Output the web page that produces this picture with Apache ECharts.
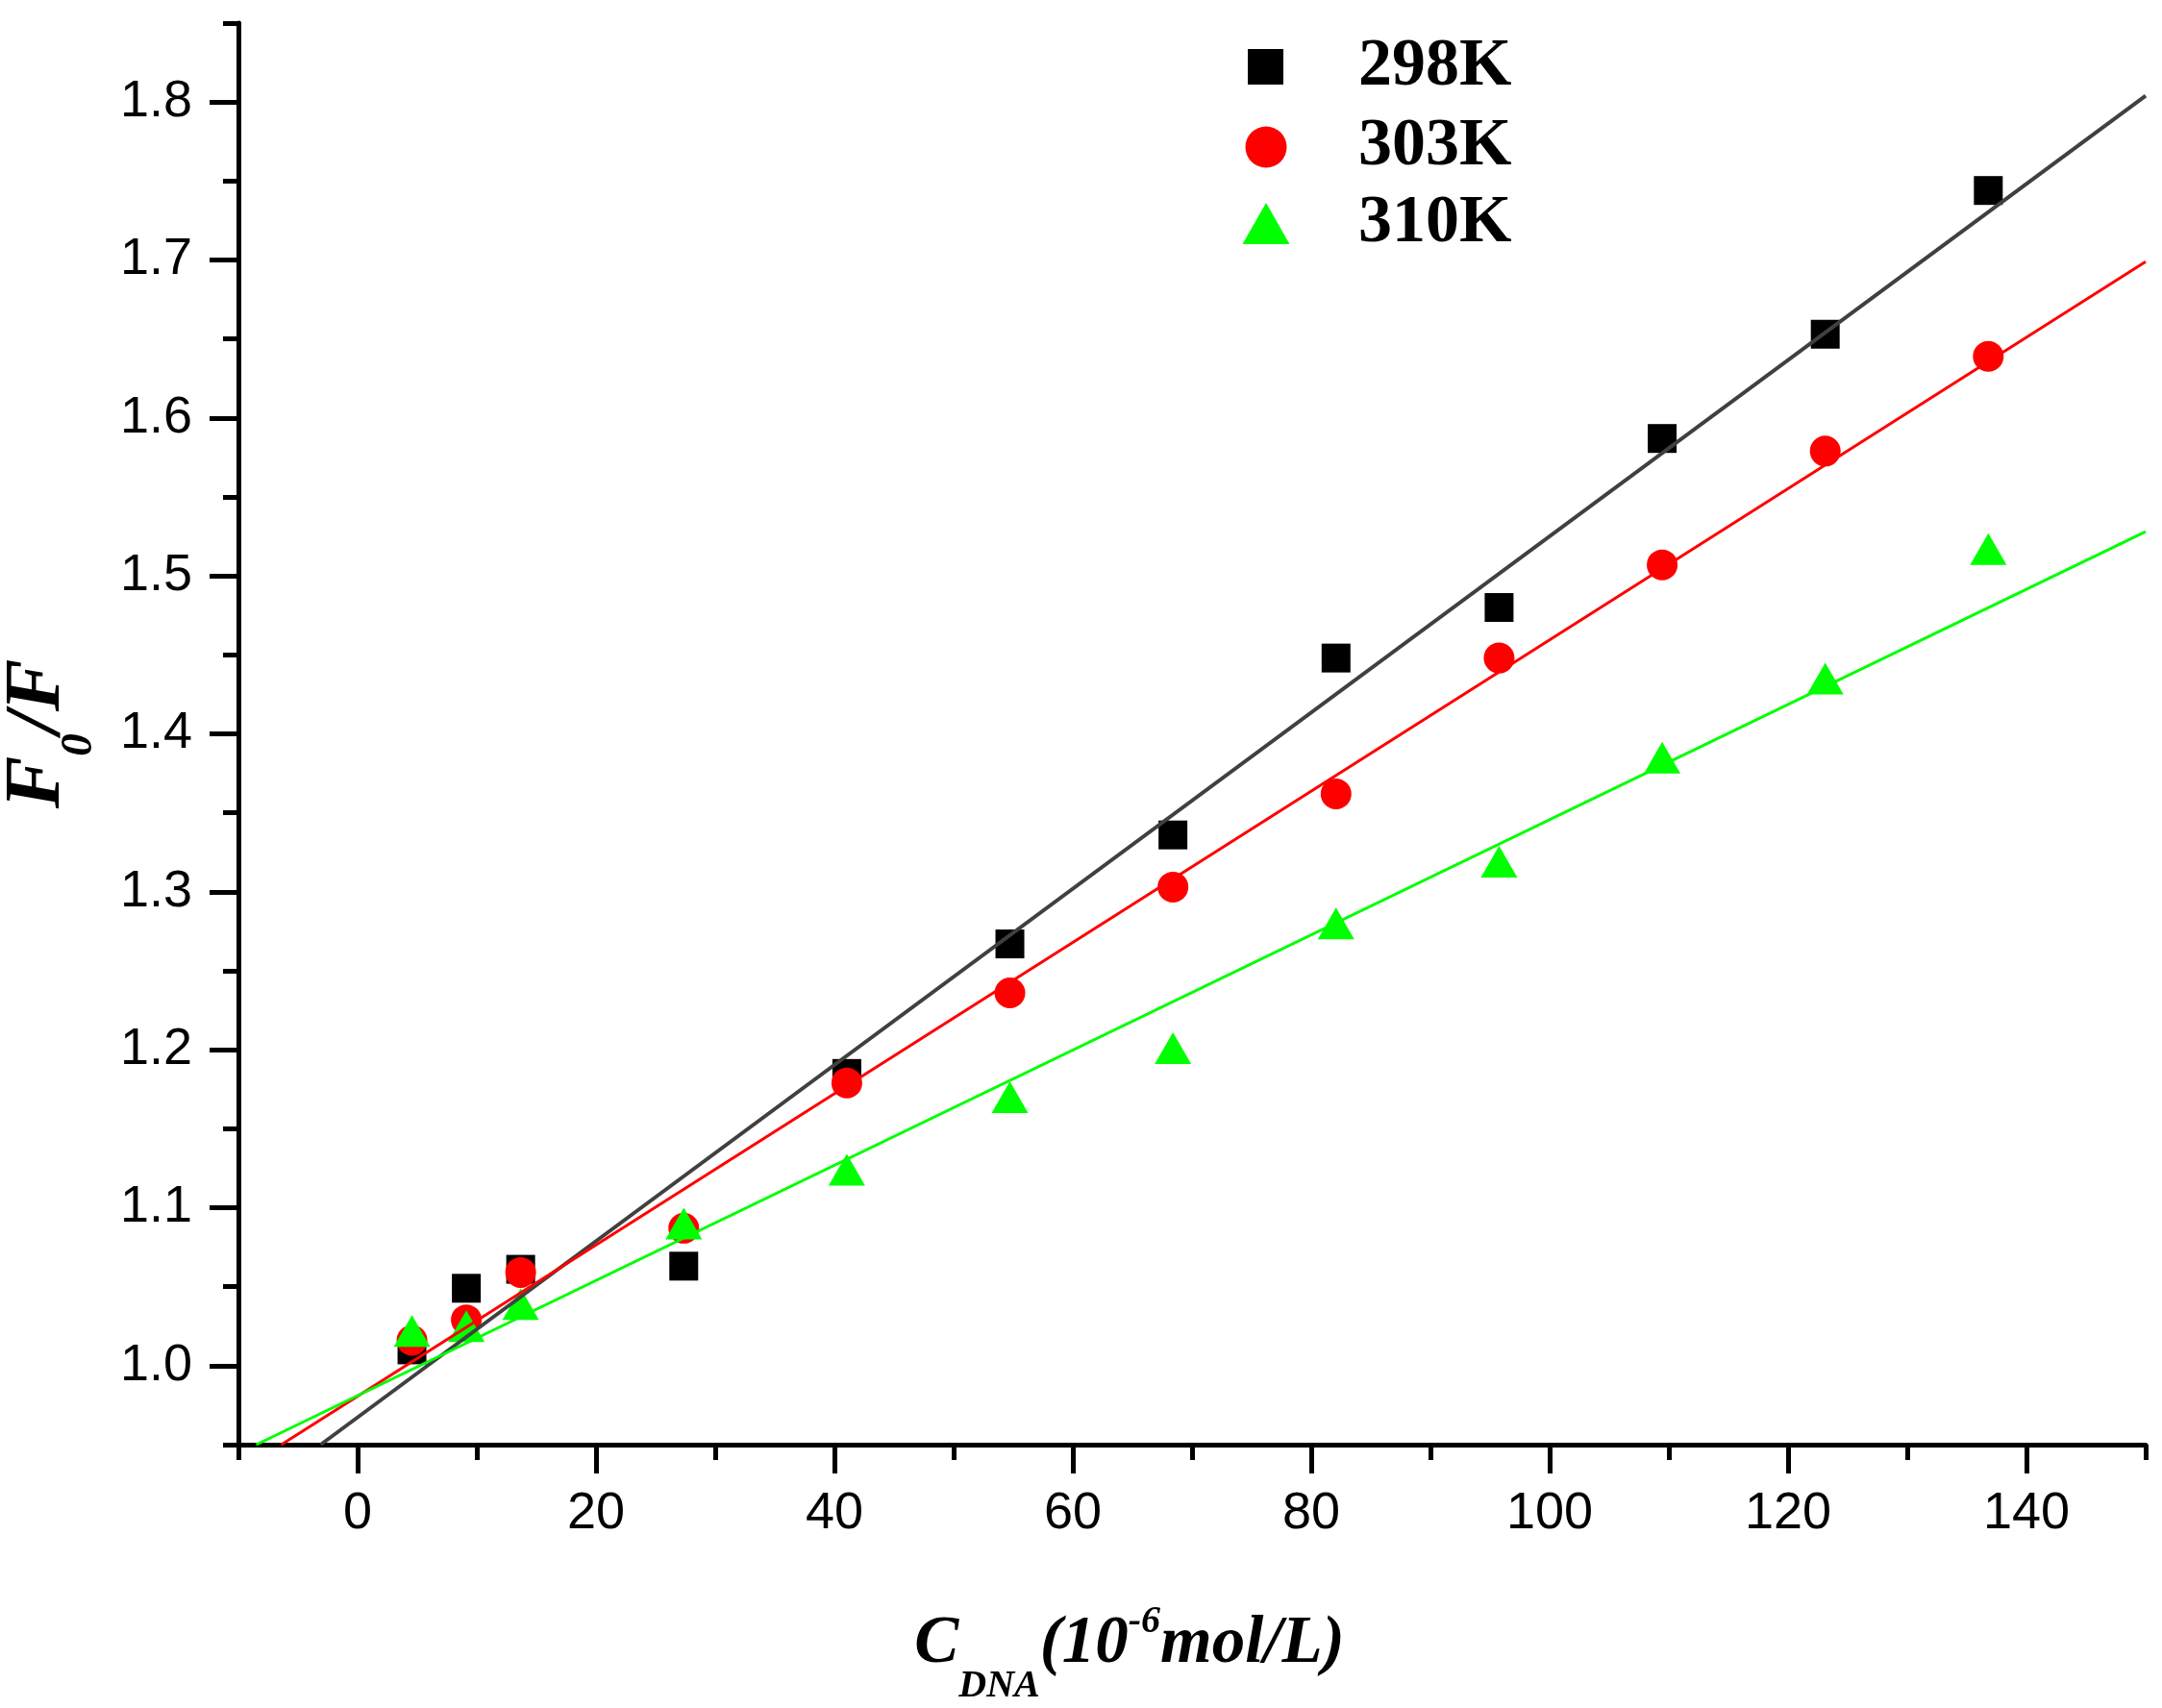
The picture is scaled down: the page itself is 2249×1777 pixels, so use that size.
<!DOCTYPE html>
<html>
<head>
<meta charset="utf-8">
<title>F0/F vs CDNA</title>
<script src="https://cdn.jsdelivr.net/npm/echarts@6/dist/echarts.min.js"></script>
<style>
  html, body { margin: 0; padding: 0; background: #fff; }
  #chart { width: 2249px; height: 1777px; }
</style>
</head>
<body>
<div id="chart"></div>
<script>
// F0/F against DNA concentration at three temperatures, with linear fits
var concentrations = [4.56, 9.12, 13.68, 27.36, 41.04, 54.72, 68.4, 82.08, 95.76, 109.44, 123.12, 136.8];
var ratio298 = [1.010, 1.049, 1.061, 1.063, 1.185, 1.267, 1.336, 1.448, 1.480, 1.587, 1.653, 1.744];
var ratio303 = [1.016, 1.029, 1.059, 1.087, 1.179, 1.236, 1.303, 1.362, 1.448, 1.507, 1.579, 1.639];
var ratio310 = [1.022, 1.025, 1.039, 1.090, 1.124, 1.170, 1.201, 1.280, 1.319, 1.385, 1.435, 1.517];

// fitted lines, endpoints read where they leave the frame
var fit298 = [[-3.1, 0.95], [150, 1.804]];
var fit303 = [[-6.4, 0.95], [150, 1.699]];
var fit310 = [[-8.5, 0.95], [150, 1.528]];

var xMajorTicks = [0, 20, 40, 60, 80, 100, 120, 140];
var xMinorTicks = [-10, 10, 30, 50, 70, 90, 110, 130, 150];
var yMajorTicks = [1.0, 1.1, 1.2, 1.3, 1.4, 1.5, 1.6, 1.7, 1.8];
var yMinorTicks = [0.95, 1.05, 1.15, 1.25, 1.35, 1.45, 1.55, 1.65, 1.75, 1.85];

(function() {
  var sans = 'Liberation Sans';
  var serif = 'Liberation Serif';

  function pairs(ys) {
    return concentrations.map(function(c, i) { return [c, ys[i]]; });
  }

  var tickStyle = { color: '#000', width: 5 };
  var labelStyle = { color: '#000', fontFamily: sans, fontSize: 54 };

  // bold italic serif pieces; sub/superscripts are shifted with padding,
  // lineHeight includes the padding so the line box is fixed
  function titleRich(main, extra) {
    var base = { fontFamily: serif, fontWeight: 'bold', fontStyle: 'italic', color: '#000', verticalAlign: 'middle' };
    var rich = { m: Object.assign({}, base, main) };
    Object.keys(extra).forEach(function(k) { rich[k] = Object.assign({}, base, extra[k]); });
    return rich;
  }

  function legendFor(name, left, top, w, h, padLeft) {
    return {
      data: [name],
      left: left,
      top: top,
      orient: 'vertical',
      padding: 0,
      itemWidth: w,
      itemHeight: h,
      selectedMode: false,
      textStyle: {
        fontFamily: serif, fontWeight: 'bold', fontSize: 70, lineHeight: 70,
        color: '#000', padding: [0, 0, 0, padLeft]
      }
    };
  }

  var chart = echarts.init(document.getElementById('chart'));
  chart.setOption({
    animation: false,
    backgroundColor: '#fff',
    grid: { left: 248, right: 17, top: 24, bottom: 274, containLabel: false, outerBoundsMode: 'none' },
    legend: [
      legendFor('298K', 1298, 34.5, 37, 37, 73),
      legendFor('303K', 1295.5, 118, 43, 43, 69.5),
      legendFor('310K', 1292.5, 197.5, 49, 43, 66.5)
    ],
    xAxis: [{
      type: 'value', min: -10, max: 150, position: 'bottom',
      axisLine: { show: true, onZero: false, lineStyle: { color: '#000', width: 5 } },
      axisTick: { show: true, customValues: xMajorTicks, length: 30, lineStyle: tickStyle },
      axisLabel: Object.assign({ customValues: xMajorTicks, margin: 45 }, labelStyle),
      splitLine: { show: false },
      name: '{m|C}{s|DNA}{m|(10}{p|-6}{m|mol/L)}',
      nameLocation: 'middle',
      nameGap: 144,
      nameMoveOverlap: false,
      nameTextStyle: {
        padding: [0, 130, 0, 0],
        rich: titleRich({ fontSize: 69, lineHeight: 76 }, {
          s: { fontSize: 40, lineHeight: 128, padding: [88, 0, 0, 0] },
          p: { fontSize: 40, lineHeight: 86, padding: [0, 0, 46, 0] }
        })
      }
    }, {
      type: 'value', min: -10, max: 150, position: 'bottom',
      axisLine: { show: false, onZero: false },
      axisTick: { show: true, customValues: xMinorTicks, length: 16, lineStyle: tickStyle },
      axisLabel: { show: false },
      splitLine: { show: false }
    }],
    yAxis: [{
      type: 'value', min: 0.95, max: 1.85, position: 'left',
      axisLine: { show: true, onZero: false, lineStyle: { color: '#000', width: 5 } },
      axisTick: { show: true, customValues: yMajorTicks, length: 30, lineStyle: tickStyle },
      axisLabel: Object.assign({
        customValues: yMajorTicks, margin: 48,
        formatter: function(v) { return v.toFixed(1); }
      }, labelStyle),
      splitLine: { show: false },
      name: '{m|F}{s|0}{m|/F}',
      nameLocation: 'middle',
      nameGap: 142,
      nameMoveOverlap: false,
      nameTextStyle: {
        rich: titleRich({ fontSize: 82, lineHeight: 90 }, {
          s: { fontSize: 47, lineHeight: 133, padding: [86, 0, 0, 0] }
        })
      }
    }, {
      type: 'value', min: 0.95, max: 1.85, position: 'left',
      axisLine: { show: false, onZero: false },
      axisTick: { show: true, customValues: yMinorTicks, length: 16, lineStyle: tickStyle },
      axisLabel: { show: false },
      splitLine: { show: false }
    }],
    series: [
      { name: '298K', type: 'scatter', symbol: 'rect', symbolSize: 30,
        itemStyle: { color: '#000000', opacity: 1 }, data: pairs(ratio298), z: 2 },
      { name: '303K', type: 'scatter', symbol: 'circle', symbolSize: 32,
        itemStyle: { color: '#ff0000', opacity: 1 }, data: pairs(ratio303), z: 2 },
      { name: '310K', type: 'scatter', symbol: 'triangle', symbolSize: [38, 33],
        itemStyle: { color: '#00ff00', opacity: 1 }, data: pairs(ratio310), z: 2 },
      { name: 'fit298', type: 'line', data: fit298, showSymbol: false, symbol: 'none',
        lineStyle: { color: '#404040', width: 4 }, z: 3, silent: true },
      { name: 'fit303', type: 'line', data: fit303, showSymbol: false, symbol: 'none',
        lineStyle: { color: '#ff0000', width: 3 }, z: 3, silent: true },
      { name: 'fit310', type: 'line', data: fit310, showSymbol: false, symbol: 'none',
        lineStyle: { color: '#00ff00', width: 3 }, z: 3, silent: true }
    ]
  });
  window.addEventListener('resize', function() { chart.resize(); });
})();
</script>
</body>
</html>
